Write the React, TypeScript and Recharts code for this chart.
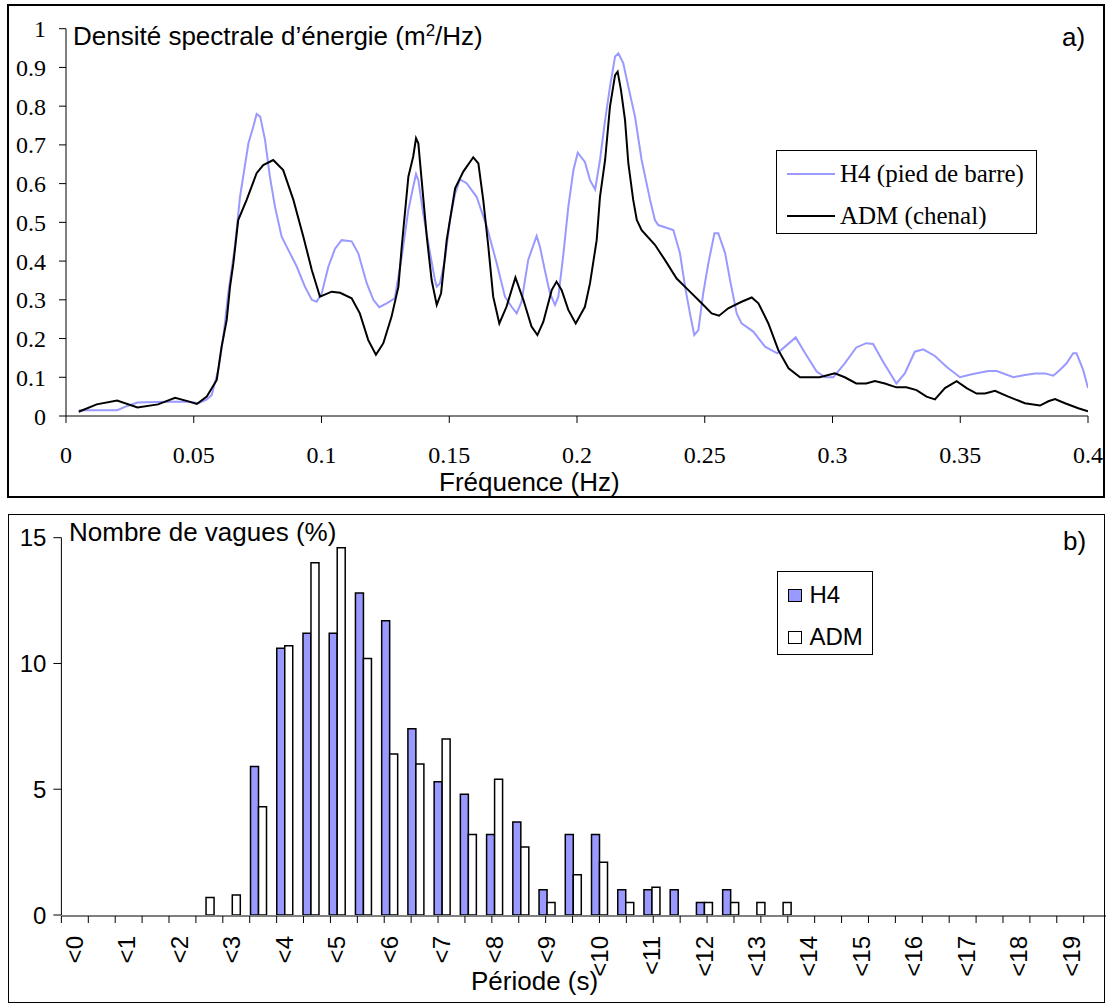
import React from 'react';
import { LineChart, Line, XAxis, YAxis, BarChart, Bar, Legend } from 'recharts';

const SERIF = '"Liberation Serif", "Times New Roman", serif';
const SANS = '"Liberation Sans", Arial, sans-serif';

// ---- a) spectral density ----
const h4Freq = [
  0.005, 0.01, 0.02, 0.024, 0.028, 0.035, 0.042, 0.0485, 0.0518, 0.055,
  0.057, 0.0596, 0.0616, 0.0635, 0.0661, 0.0681, 0.0714, 0.0733, 0.0746, 0.076,
  0.0779, 0.0798, 0.0818, 0.0844, 0.0877, 0.0903, 0.0935, 0.0962, 0.0981, 0.1001,
  0.1027, 0.1053, 0.1079, 0.1118, 0.1144, 0.1177, 0.1203, 0.1226, 0.1255, 0.1287,
  0.1314, 0.134, 0.1359, 0.137, 0.1379, 0.1398, 0.1425, 0.1444, 0.1451, 0.1464,
  0.1483, 0.1503, 0.1523, 0.1542, 0.1568, 0.1607, 0.1647, 0.1686, 0.1718, 0.1744,
  0.1764, 0.1783, 0.1809, 0.1842, 0.1855, 0.1874, 0.1894, 0.1914, 0.1927, 0.1947,
  0.1966, 0.1986, 0.2003, 0.2031, 0.2051, 0.2071, 0.209, 0.211, 0.2129, 0.2149,
  0.2162, 0.2181, 0.2201, 0.2227, 0.2253, 0.2286, 0.2305, 0.2318, 0.2377, 0.2403,
  0.2423, 0.2442, 0.2459, 0.2475, 0.2494, 0.2514, 0.2538, 0.2553, 0.258, 0.2599,
  0.2625, 0.2644, 0.269, 0.2736, 0.2784, 0.2821, 0.2856, 0.2893, 0.2938, 0.2971,
  0.3003, 0.3048, 0.3093, 0.3132, 0.3159, 0.3198, 0.325, 0.3283, 0.3322, 0.3355,
  0.3401, 0.3446, 0.3499, 0.3545, 0.361, 0.3643, 0.3708, 0.3753, 0.3793, 0.3832,
  0.3864, 0.389, 0.3916, 0.3942, 0.3955, 0.3981, 0.4,
];
const h4Density = [
  0.015, 0.015, 0.015, 0.026, 0.035, 0.036, 0.037, 0.037, 0.033, 0.042,
  0.054, 0.119, 0.205, 0.317, 0.437, 0.566, 0.704, 0.747, 0.78, 0.773,
  0.713, 0.618, 0.54, 0.463, 0.42, 0.386, 0.334, 0.3, 0.295, 0.317,
  0.386, 0.432, 0.454, 0.451, 0.42, 0.343, 0.3, 0.281, 0.291, 0.304,
  0.411, 0.532, 0.592, 0.625, 0.609, 0.523, 0.42, 0.351, 0.334, 0.343,
  0.403, 0.506, 0.575, 0.611, 0.601, 0.566, 0.489, 0.394, 0.308, 0.282,
  0.265, 0.295, 0.403, 0.465, 0.437, 0.377, 0.317, 0.287, 0.308, 0.42,
  0.54, 0.635, 0.68, 0.656, 0.609, 0.585, 0.661, 0.764, 0.85, 0.928,
  0.936, 0.911, 0.85, 0.773, 0.661, 0.558, 0.506, 0.493, 0.48, 0.42,
  0.334, 0.265, 0.209, 0.222, 0.317, 0.394, 0.472, 0.472, 0.42, 0.351,
  0.265, 0.239, 0.218, 0.179, 0.162, 0.183, 0.203, 0.162, 0.115, 0.1,
  0.1, 0.136, 0.177, 0.188, 0.186, 0.14, 0.084, 0.11, 0.166, 0.172,
  0.155, 0.127, 0.1, 0.108, 0.116, 0.116, 0.1, 0.106, 0.11, 0.11,
  0.104, 0.119, 0.136, 0.162, 0.162, 0.119, 0.072,
];
const admFreq = [
  0.005, 0.012, 0.02, 0.028, 0.036, 0.0427, 0.0472, 0.0512, 0.0551, 0.059,
  0.0609, 0.0629, 0.0642, 0.0655, 0.0674, 0.0707, 0.0746, 0.0772, 0.0811, 0.085,
  0.089, 0.0929, 0.0962, 0.0994, 0.104, 0.1073, 0.1118, 0.115, 0.1183, 0.1213,
  0.1242, 0.1274, 0.1301, 0.1314, 0.134, 0.1359, 0.137, 0.1379, 0.1392, 0.1412,
  0.1431, 0.1451, 0.1468, 0.149, 0.1523, 0.1555, 0.1594, 0.1614, 0.1633, 0.1653,
  0.1672, 0.1696, 0.1724, 0.1759, 0.179, 0.1822, 0.1845, 0.1868, 0.1901, 0.192,
  0.194, 0.1966, 0.1995, 0.2031, 0.2051, 0.2077, 0.209, 0.211, 0.2129, 0.2149,
  0.2159, 0.2172, 0.2188, 0.2201, 0.222, 0.2234, 0.2253, 0.2305, 0.2344, 0.239,
  0.2436, 0.2488, 0.2527, 0.2556, 0.2592, 0.2644, 0.2684, 0.271, 0.2749, 0.2788,
  0.2828, 0.2873, 0.295, 0.3009, 0.3048, 0.3093, 0.3132, 0.3166, 0.3205, 0.325,
  0.3289, 0.3329, 0.3368, 0.3401, 0.344, 0.3486, 0.3525, 0.3564, 0.3597, 0.3636,
  0.3688, 0.3753, 0.3812, 0.3845, 0.3871, 0.391, 0.3962, 0.4,
];
const admDensity = [
  0.011, 0.03, 0.04, 0.022, 0.03, 0.047, 0.039, 0.031, 0.05, 0.093,
  0.179, 0.248, 0.334, 0.394, 0.506, 0.558, 0.627, 0.648, 0.661, 0.635,
  0.558, 0.463, 0.377, 0.308, 0.321, 0.318, 0.304, 0.265, 0.196, 0.158,
  0.188, 0.256, 0.334, 0.437, 0.618, 0.67, 0.717, 0.704, 0.609, 0.463,
  0.351, 0.287, 0.317, 0.454, 0.588, 0.631, 0.668, 0.652, 0.558, 0.437,
  0.308, 0.239, 0.282, 0.358, 0.3, 0.231, 0.209, 0.243, 0.325, 0.347,
  0.325, 0.274, 0.239, 0.282, 0.343, 0.454, 0.566, 0.661, 0.799, 0.88,
  0.889, 0.842, 0.764, 0.652, 0.558, 0.506, 0.48, 0.442, 0.403, 0.355,
  0.325, 0.291, 0.265, 0.259, 0.278, 0.295, 0.306, 0.291, 0.239, 0.17,
  0.123, 0.1, 0.1, 0.11, 0.1, 0.084, 0.084, 0.09, 0.084, 0.074,
  0.074, 0.067, 0.05, 0.043, 0.072, 0.09, 0.072, 0.058, 0.058, 0.065,
  0.05, 0.033, 0.027, 0.038, 0.044, 0.033, 0.02, 0.012,
];
const freqTicks = [0, 0.05, 0.1, 0.15, 0.2, 0.25, 0.3, 0.35, 0.4];
const densityTicks = [0, 0.1, 0.2, 0.3, 0.4, 0.5, 0.6, 0.7, 0.8, 0.9, 1];
const topSeriesNames = ['H4 (pied de barre)', 'ADM (chenal)'];

// ---- b) wave periods ----
const periodCategories = [
  '<0', '<0.5', '<1', '<1.5', '<2', '<2.5', '<3', '<3.5', '<4', '<4.5',
  '<5', '<5.5', '<6', '<6.5', '<7', '<7.5', '<8', '<8.5', '<9', '<9.5',
  '<10', '<10.5', '<11', '<11.5', '<12', '<12.5', '<13', '<13.5', '<14', '<14.5',
  '<15', '<15.5', '<16', '<16.5', '<17', '<17.5', '<18', '<18.5', '<19', '<19.5',
];
const h4Percent = [
  0, 0, 0, 0, 0, 0, 0, 5.9, 10.6, 11.2,
  11.2, 12.8, 11.7, 7.4, 5.3, 4.8, 3.2, 3.7, 1.0, 3.2,
  3.2, 1.0, 1.0, 1.0, 0.5, 1.0, 0, 0, 0, 0,
  0, 0, 0, 0, 0, 0, 0, 0, 0, 0,
];
const admPercent = [
  0, 0, 0, 0, 0, 0.7, 0.8, 4.3, 10.7, 14.0,
  14.6, 10.2, 6.4, 6.0, 7.0, 3.2, 5.4, 2.7, 0.5, 1.6,
  2.1, 0.5, 1.1, 0, 0.5, 0.5, 0.5, 0.5, 0, 0,
  0, 0, 0, 0, 0, 0, 0, 0, 0, 0,
];
const percentTicks = [0, 5, 10, 15];
const bottomSeriesNames = ['H4', 'ADM'];

const h4Series = h4Freq.map((f, i) => ({ f, v: h4Density[i] }));
const admSeries = admFreq.map((f, i) => ({ f, v: admDensity[i] }));
const periodData = periodCategories.map((c, i) => ({ period: c, h4: h4Percent[i], adm: admPercent[i] }));
const boundaryTicks = periodCategories.map((_, i) => i).concat([periodCategories.length]);

const H4_COLOR = '#9999FF';

const orderBy = (names: string[]) => (payload: any[]) =>
  [...(payload || [])].sort((a, b) => names.indexOf(a.value) - names.indexOf(b.value));

const TopLegend = (props: any) => {
  const payload = orderBy(topSeriesNames)(props.payload);
  return (
    <div style={{ width: 261, height: 84, boxSizing: 'border-box', border: '1px solid #000', background: '#fff', position: 'relative', fontFamily: SERIF, fontSize: 25, color: '#000' }}>
      {payload.map((p: any, i: number) => (
        <div key={i} style={{ position: 'absolute', left: 10, top: 23 + 42 * i - 15, height: 30, display: 'flex', alignItems: 'center', whiteSpace: 'nowrap' }}>
          <div style={{ width: 48, height: 2, background: p.color }} />
          <span style={{ marginLeft: 5, lineHeight: '30px' }}>{p.value}</span>
        </div>
      ))}
    </div>
  );
};

const BottomLegend = (props: any) => {
  const payload = orderBy(bottomSeriesNames)(props.payload);
  return (
    <div style={{ width: 96, height: 84, boxSizing: 'border-box', border: '1px solid #000', background: '#fff', position: 'relative', fontFamily: SANS, fontSize: 24, color: '#000' }}>
      {payload.map((p: any, i: number) => (
        <div key={i} style={{ position: 'absolute', left: 10, top: 23 + 42 * i - 15, height: 30, display: 'flex', alignItems: 'center', whiteSpace: 'nowrap' }}>
          <div style={{ width: 14, height: 13, boxSizing: 'border-box', border: '1px solid #000', background: p.payload && p.payload.fill ? p.payload.fill : p.color }} />
          <span style={{ marginLeft: 8, lineHeight: '30px' }}>{p.value}</span>
        </div>
      ))}
    </div>
  );
};

const PeriodTick = (props: any) => {
  const { x, y, payload } = props;
  return (
    <text x={x} y={y} transform={`rotate(-90, ${x}, ${y})`} textAnchor="end" dominantBaseline="central" fill="#000" fontSize={24} fontFamily={SANS}>
      {payload.value}
    </text>
  );
};

const NoLabel = () => <g />;

const txt = (extra: React.CSSProperties): React.CSSProperties => ({
  position: 'absolute', whiteSpace: 'nowrap', lineHeight: 1, color: '#000', ...extra,
});

export default function App() {
  return (
    <div style={{ position: 'absolute', left: 0, top: 0, width: 1106, height: 1004, overflow: 'hidden', background: '#fff' }}>
      {/* top chart */}
      <div style={{ position: 'absolute', left: 0, top: 0 }}>
        <LineChart width={1106} height={500} margin={{ top: 28.7, right: 18, bottom: 54, left: 0 }}>
          <XAxis
            dataKey="f" type="number" domain={[0, 0.4]} ticks={freqTicks} allowDataOverflow
            height={30} tickSize={7} tickMargin={23}
            tick={{ fill: '#000', fontSize: 24, fontFamily: SERIF }}
            axisLine={{ stroke: '#000' }} tickLine={{ stroke: '#000' }}
          />
          <YAxis
            type="number" domain={[0, 1]} ticks={densityTicks} allowDataOverflow
            width={66} tickSize={7} tickMargin={13}
            tick={{ fill: '#000', fontSize: 24, fontFamily: SERIF }}
            axisLine={{ stroke: '#000' }} tickLine={{ stroke: '#000' }}
          />
          <Line data={h4Series} dataKey="v" name={topSeriesNames[0]} type="linear" stroke={H4_COLOR} strokeWidth={2} dot={false} isAnimationActive={false} />
          <Line data={admSeries} dataKey="v" name={topSeriesNames[1]} type="linear" stroke="#000" strokeWidth={2} dot={false} isAnimationActive={false} />
          <Legend layout="vertical" align="center" verticalAlign="middle" content={<TopLegend />} wrapperStyle={{ left: 776, top: 150, width: 261, height: 84 }} />
        </LineChart>
      </div>

      {/* bottom chart */}
      <div style={{ position: 'absolute', left: 0, top: 500 }}>
        <BarChart width={1112} height={504} data={periodData} margin={{ top: 37.7, right: 1.4, bottom: 87, left: 0 }} barCategoryGap="21%" barGap={0}>
          <XAxis
            xAxisId="grid" type="number" domain={[0, periodCategories.length]} ticks={boundaryTicks} allowDataOverflow
            interval={0} height={1} tickSize={7} tickMargin={0} tick={<NoLabel />}
            axisLine={{ stroke: '#000' }} tickLine={{ stroke: '#000', strokeWidth: 1 }}
          />
          <XAxis
            xAxisId="cat" dataKey="period" type="category" interval={1}
            height={1} tickSize={0} tickMargin={21} tickLine={false} axisLine={false}
            tick={<PeriodTick />}
          />
          <YAxis
            type="number" domain={[0, 15]} ticks={percentTicks} allowDataOverflow
            width={61.4} tickSize={8} tickMargin={7}
            tick={{ fill: '#000', fontSize: 24, fontFamily: SANS }}
            axisLine={{ stroke: '#000' }} tickLine={{ stroke: '#000' }}
          />
          <Bar xAxisId="cat" dataKey="h4" name={bottomSeriesNames[0]} fill={H4_COLOR} stroke="#000" strokeWidth={1.5} isAnimationActive={false} />
          <Bar xAxisId="cat" dataKey="adm" name={bottomSeriesNames[1]} fill="#FFFFFF" stroke="#000" strokeWidth={1.5} isAnimationActive={false} />
          <Legend layout="vertical" align="center" verticalAlign="middle" content={<BottomLegend />} wrapperStyle={{ left: 776.5, top: 71, width: 96, height: 84 }} />
        </BarChart>
      </div>

      {/* texts */}
      <div style={txt({ left: 73, top: 23, fontFamily: SANS, fontSize: 26 })}>
        Densité spectrale d’énergie (m<sup style={{ fontSize: '0.65em', verticalAlign: '0.55em', lineHeight: 0 }}>2</sup>/Hz)
      </div>
      <div style={txt({ left: 1062, top: 24, fontFamily: SANS, fontSize: 26 })}>a)</div>
      <div style={txt({ left: 439, top: 469, fontFamily: SANS, fontSize: 26 })}>Fréquence (Hz)</div>

      <div style={txt({ left: 69, top: 519, fontFamily: SANS, fontSize: 26 })}>Nombre de vagues (%)</div>
      <div style={txt({ left: 1063, top: 528, fontFamily: SANS, fontSize: 26 })}>b)</div>
      <div style={txt({ left: 471, top: 968, fontFamily: SANS, fontSize: 26 })}>Période (s)</div>

      {/* panel frames */}
      <div style={{ position: 'absolute', left: 7, top: 4, width: 1098, height: 494, boxSizing: 'border-box', border: '2px solid #000', pointerEvents: 'none' }} />
      <div style={{ position: 'absolute', left: 8, top: 514, width: 1097, height: 489, boxSizing: 'border-box', border: '1px solid #000', pointerEvents: 'none' }} />
    </div>
  );
}
